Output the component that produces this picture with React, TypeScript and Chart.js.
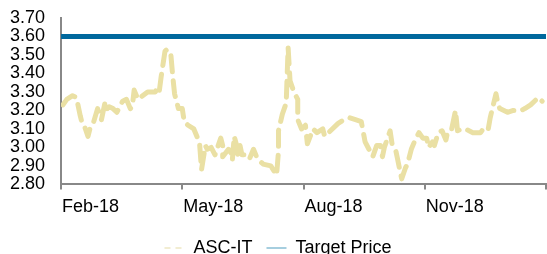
import React, { useEffect, useRef } from 'react';
import { Chart, registerables } from 'chart.js';

Chart.register(...registerables);

// Trading-day index (from 1 Feb 2018) and closing price of ASC-IT
const tradingDays = [
  1, 3, 6, 8, 10, 11, 12, 14, 15, 17,
  19, 21, 23, 24, 25, 27, 29, 32, 34, 36,
  37, 38, 40, 45, 49, 50, 51, 52, 54, 55,
  57, 58, 59, 61, 63, 64, 66, 69, 71, 72,
  73, 75, 76, 78, 80, 83, 84, 84, 87, 89,
  89, 90, 91, 92, 93, 94, 97, 98, 100, 102,
  105, 109, 112, 113, 113, 115, 116, 117, 118, 119,
  121, 123, 123, 125, 127, 128, 131, 133, 136, 137,
  140, 144, 147, 150, 153, 156, 158, 160, 162, 164,
  166, 167, 168, 171, 172, 174, 175, 177, 179, 180,
  182, 184, 186, 188, 190, 191, 193, 194, 196, 198,
  200, 201, 203, 205, 206, 208, 210, 214, 218, 220,
  222, 223, 226, 227, 228, 232, 235, 239, 241, 244,
  246, 248, 250,
];

const ascPrices = [
  3.23, 3.26, 3.28, 3.27, 3.17, 3.13, 3.12, 3.06, 3.10, 3.14,
  3.21, 3.15, 3.25, 3.21, 3.22, 3.21, 3.19, 3.25, 3.26, 3.21,
  3.22, 3.31, 3.26, 3.30, 3.30, 3.32, 3.30, 3.38, 3.52, 3.53,
  3.51, 3.39, 3.29, 3.21, 3.21, 3.14, 3.12, 3.10, 3.05, 3.02,
  2.88, 3.01, 2.99, 3.00, 2.96, 3.05, 3.01, 2.95, 2.99, 2.96,
  2.93, 3.06, 3.02, 2.95, 3.01, 2.96, 2.96, 2.94, 2.99, 2.94,
  2.91, 2.90, 2.85, 2.98, 3.09, 3.18, 3.21, 3.24, 3.54, 3.36,
  3.30, 3.26, 3.15, 3.10, 3.12, 3.02, 3.10, 3.08, 3.10, 3.06,
  3.09, 3.13, 3.15, 3.16, 3.15, 3.14, 3.03, 2.99, 2.95, 3.01,
  3.01, 2.95, 3.00, 3.09, 3.02, 2.98, 2.93, 2.83, 2.89, 2.91,
  2.99, 3.04, 3.08, 3.05, 3.05, 3.00, 3.03, 3.01, 3.08, 3.09,
  3.04, 3.09, 3.10, 3.20, 3.09, 3.10, 3.10, 3.08, 3.08, 3.11,
  3.10, 3.16, 3.29, 3.24, 3.21, 3.19, 3.20, 3.20, 3.21, 3.23,
  3.25, 3.27, 3.25,
];

const targetPrice = 3.6;
const axisStartDay = 0;
const axisEndDay = 252;

const xTickDays = [0, 63, 126, 189, 252];
const xTickLabels = ['Feb-18', 'May-18', 'Aug-18', 'Nov-18', ''];

const yMin = 2.8;
const yMax = 3.7;
const yStep = 0.1;

const seriesNames = ['ASC-IT', 'Target Price'];

const FONT = "'Liberation Sans', Arial, Helvetica, sans-serif";
const PRICE_COLOR = '#EAE0A4';
const TARGET_COLOR = '#00689D';
const AXIS_COLOR = '#888888';

export default function App() {
  const canvasRef = useRef<HTMLCanvasElement | null>(null);

  useEffect(() => {
    document.body.style.margin = '0';
    document.body.style.overflow = 'hidden';
    document.documentElement.style.overflow = 'hidden';
    const canvas = canvasRef.current;
    if (!canvas) return;

    const chart = new Chart(canvas, {
      type: 'line',
      data: {
        datasets: [
          {
            label: seriesNames[0],
            data: tradingDays.map((d, i) => ({ x: d, y: ascPrices[i] })),
            borderColor: PRICE_COLOR,
            backgroundColor: PRICE_COLOR,
            borderWidth: 5,
            borderDash: [16, 9],
            borderCapStyle: 'round',
            borderJoinStyle: 'round',
            pointRadius: 0,
            tension: 0,
            fill: false,
          },
          {
            label: seriesNames[1],
            data: [
              { x: axisStartDay, y: targetPrice },
              { x: axisEndDay, y: targetPrice },
            ],
            borderColor: TARGET_COLOR,
            backgroundColor: TARGET_COLOR,
            borderWidth: 5,
            pointRadius: 0,
            tension: 0,
            fill: false,
          },
        ],
      },
      options: {
        animation: false,
        responsive: true,
        maintainAspectRatio: false,
        layout: { padding: { left: 10, top: 18, right: 1, bottom: 0 } },
        plugins: {
          tooltip: { enabled: false },
          legend: {
            display: true,
            position: 'bottom',
            labels: {
              color: '#000',
              font: { family: FONT, size: 18 },
              usePointStyle: true,
              pointStyleWidth: 20,
              padding: 14,
              generateLabels: () => [
                {
                  text: seriesNames[0],
                  strokeStyle: '#F2EDD2',
                  fillStyle: '#F2EDD2',
                  lineWidth: 2,
                  lineDash: [6, 5],
                  pointStyle: 'line',
                  hidden: false,
                  datasetIndex: 0,
                  fontColor: '#000',
                },
                {
                  text: seriesNames[1],
                  strokeStyle: '#A6CEDF',
                  fillStyle: '#A6CEDF',
                  lineWidth: 2,
                  pointStyle: 'line',
                  hidden: false,
                  datasetIndex: 1,
                  fontColor: '#000',
                },
              ],
            },
          },
        },
        scales: {
          x: {
            type: 'linear',
            min: axisStartDay,
            max: axisEndDay,
            afterBuildTicks: (scale: any) => {
              scale.ticks = xTickDays.map((v) => ({ value: v }));
            },
            afterFit: (scale: any) => {
              scale.paddingRight = 0;
              scale.paddingLeft = 0;
            },
            ticks: {
              autoSkip: false,
              maxRotation: 0,
              minRotation: 0,
              align: 'start',
              labelOffset: 1,
              padding: 7,
              color: '#000',
              font: { family: FONT, size: 18 },
              callback: (value: any) => {
                const idx = xTickDays.indexOf(Number(value));
                return idx >= 0 ? xTickLabels[idx] : '';
              },
            },
            grid: {
              display: true,
              drawOnChartArea: false,
              drawTicks: true,
              tickLength: 5,
              color: AXIS_COLOR,
              lineWidth: 2,
            },
            border: { display: true, color: AXIS_COLOR, width: 2 },
          },
          y: {
            type: 'linear',
            min: yMin,
            max: yMax,
            afterFit: (scale: any) => {
              scale.width -= 16;
              scale.paddingTop = 0;
              scale.paddingBottom = 0;
            },
            ticks: {
              autoSkip: false,
              stepSize: yStep,
              padding: 16,
              color: '#000',
              font: { family: FONT, size: 18 },
              callback: (value: any) => Number(value).toFixed(2),
            },
            grid: { display: false, drawTicks: false },
            border: { display: true, color: AXIS_COLOR, width: 2 },
          },
        },
      },
    });

    return () => {
      chart.destroy();
    };
  }, []);

  return (
    <div
      style={{
        position: 'fixed',
        left: 0,
        top: 0,
        width: 547,
        height: 254,
        overflow: 'hidden',
        background: '#fff',
      }}
    >
      <div style={{ position: 'relative', width: 547, height: 267 }}>
        <canvas ref={canvasRef} />
      </div>
    </div>
  );
}
